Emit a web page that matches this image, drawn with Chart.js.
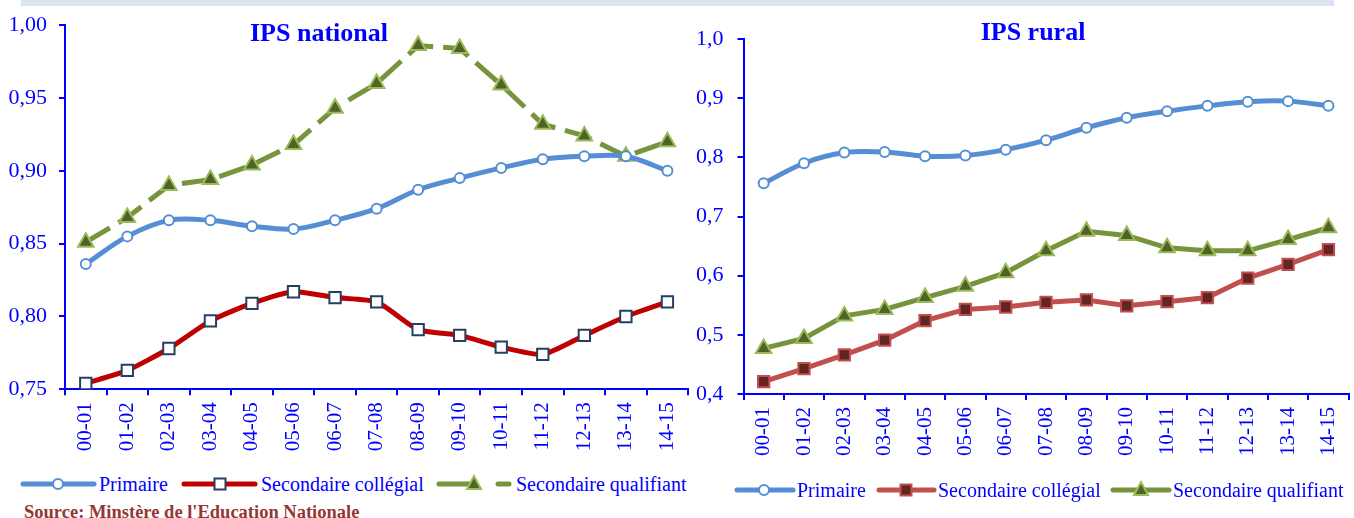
<!DOCTYPE html>
<html>
<head>
<meta charset="utf-8">
<script src="https://cdn.jsdelivr.net/npm/chart.js@4.4.1/dist/chart.umd.min.js"></script>
<style>
  html, body { margin: 0; padding: 0; background: #fff; }
  body { width: 1354px; height: 518px; position: relative; overflow: hidden; font-family: 'Liberation Serif', 'Times New Roman', serif; }
  canvas { position: absolute; top: 0; }
  #natCanvas { left: 0; }
  #rurCanvas { left: 680px; }
  .banner { position: absolute; left: 21px; top: 0; width: 1313px; height: 6px; background: #dbe5f1; }
  .title { position: absolute; color: #0000ff; font-weight: bold; font-size: 26px; line-height: 30px; white-space: nowrap; transform: translateX(-50%); }
  .source { position: absolute; left: 24px; top: 502px; color: #953735; font-weight: bold; font-size: 18.5px; line-height: 20px; white-space: nowrap; }
  svg.legend { position: absolute; left: 0; }
  svg.legend text { font-family: 'Liberation Serif', 'Times New Roman', serif; font-size: 20px; fill: #0000ff; }
</style>
</head>
<body>
<div class="banner"></div>
<canvas id="natCanvas" width="700" height="470"></canvas>
<canvas id="rurCanvas" width="681" height="470"></canvas>
<div class="title" style="left:319px; top:18px;">IPS national</div>
<div class="title" style="left:1033px; top:17px;">IPS rural</div>

<svg class="legend" style="top:470px" width="700" height="30">
  <line x1="23" y1="14" x2="94" y2="14" stroke="#558ed5" stroke-width="5" stroke-linecap="round"/>
  <circle cx="58" cy="14" r="5" fill="#ffffff" stroke="#558ed5" stroke-width="2"/>
  <text x="99" y="21">Primaire</text>
  <line x1="184" y1="14" x2="255" y2="14" stroke="#c00000" stroke-width="5" stroke-linecap="round"/>
  <rect x="214.5" y="8.5" width="11" height="11" fill="#ffffff" stroke="#243f60" stroke-width="2"/>
  <text x="261" y="21">Secondaire collégial</text>
  <line x1="439" y1="14" x2="472" y2="14" stroke="#77933c" stroke-width="5" stroke-linecap="round"/>
  <polygon points="474,6 481,19 467,19" fill="#4f6228" stroke="#9bbb59" stroke-width="2"/>
  <line x1="498" y1="14" x2="509" y2="14" stroke="#77933c" stroke-width="5" stroke-linecap="round"/>
  <text x="516" y="21">Secondaire qualifiant</text>
</svg>

<svg class="legend" style="top:476px" width="1354" height="30">
  <line x1="737" y1="14" x2="793" y2="14" stroke="#558ed5" stroke-width="5" stroke-linecap="round"/>
  <circle cx="764" cy="14" r="5" fill="#ffffff" stroke="#558ed5" stroke-width="2"/>
  <text x="797" y="21">Primaire</text>
  <line x1="879" y1="14" x2="934" y2="14" stroke="#c0504d" stroke-width="5" stroke-linecap="round"/>
  <rect x="900.5" y="8.5" width="11" height="11" fill="#632523" stroke="#c0504d" stroke-width="2"/>
  <text x="938" y="21">Secondaire collégial</text>
  <line x1="1113" y1="14" x2="1169" y2="14" stroke="#77933c" stroke-width="5" stroke-linecap="round"/>
  <polygon points="1141,6 1148,19 1134,19" fill="#4f6228" stroke="#9bbb59" stroke-width="2"/>
  <text x="1173" y="21">Secondaire qualifiant</text>
</svg>

<div class="source">Source: Minstère de l'Education Nationale</div>

<script>
// Data
const categories = ['00-01', '01-02', '02-03', '03-04', '04-05', '05-06', '06-07', '07-08',
                    '08-09', '09-10', '10-11', '11-12', '12-13', '13-14', '14-15'];

const nationalPrimaire   = [0.836, 0.855, 0.866, 0.866, 0.862, 0.860, 0.866, 0.874, 0.887, 0.895, 0.902, 0.908, 0.910, 0.910, 0.900];
const nationalCollegial  = [0.754, 0.763, 0.778, 0.797, 0.809, 0.817, 0.813, 0.810, 0.791, 0.787, 0.779, 0.774, 0.787, 0.800, 0.810];
const nationalQualifiant = [0.851, 0.868, 0.890, 0.894, 0.904, 0.918, 0.943, 0.960, 0.986, 0.984, 0.959, 0.932, 0.924, 0.910, 0.920];

const ruralPrimaire   = [0.756, 0.790, 0.808, 0.809, 0.802, 0.803, 0.813, 0.829, 0.850, 0.867, 0.878, 0.887, 0.894, 0.895, 0.887];
const ruralCollegial  = [0.421, 0.443, 0.466, 0.491, 0.524, 0.543, 0.547, 0.555, 0.559, 0.549, 0.556, 0.563, 0.596, 0.619, 0.644];
const ruralQualifiant = [0.477, 0.494, 0.532, 0.543, 0.563, 0.582, 0.605, 0.642, 0.675, 0.668, 0.647, 0.642, 0.642, 0.661, 0.681];

const nationalTicks = [0.75, 0.80, 0.85, 0.90, 0.95, 1.00];
const ruralTicks = [0.4, 0.5, 0.6, 0.7, 0.8, 0.9, 1.0];

const blue = '#0000ff';
const serif = "'Liberation Serif', 'Times New Roman', serif";

Chart.defaults.font.family = serif;

function makeScales(ticks, decimals, yWidth, xHeight, tickPad) {
    return {
        x: {
            offset: true,
            grid: { offset: true, drawOnChartArea: false, tickLength: 6, color: blue, lineWidth: 2 },
            border: { color: blue, width: 2 },
            ticks: { color: blue, font: { size: 21 }, minRotation: 90, maxRotation: 90, padding: 7, autoSkip: false },
            afterFit: (s) => { s.height = xHeight; }
        },
        y: {
            min: ticks[0],
            max: ticks[ticks.length - 1],
            grid: { drawOnChartArea: false, tickLength: 6, color: blue, lineWidth: 2 },
            border: { color: blue, width: 2 },
            ticks: {
                color: blue, font: { size: 22 }, padding: tickPad,
                callback: (v) => Number(v).toFixed(decimals).replace('.', ',')
            },
            afterBuildTicks: (s) => { s.ticks = ticks.map(v => ({ value: v })); },
            afterFit: (s) => { s.width = yWidth; }
        }
    };
}

const baseOptions = {
    responsive: false,
    animation: false,
    plugins: { legend: { display: false }, tooltip: { enabled: false } }
};

// IPS national
new Chart(document.getElementById('natCanvas'), {
    type: 'line',
    data: {
        labels: categories,
        datasets: [
            {
              label: 'Primaire',
              data: nationalPrimaire,
              borderColor: '#558ed5', borderWidth: 5, tension: 0.35,
              pointStyle: 'circle', pointRadius: 5, pointBorderWidth: 2,
              pointBackgroundColor: '#ffffff', pointBorderColor: '#558ed5'
            },
            {
              label: 'Secondaire collégial',
              data: nationalCollegial,
              borderColor: '#c00000', borderWidth: 5, tension: 0.2,
              pointStyle: 'rect', pointRadius: 8, pointBorderWidth: 2,
              pointBackgroundColor: '#ffffff', pointBorderColor: '#243f60'
            },
            {
              label: 'Secondaire qualifiant',
              data: nationalQualifiant,
              borderColor: '#77933c', borderWidth: 5, tension: 0, borderDash: [28, 10],
              pointStyle: 'triangle', pointRadius: 9, pointBorderWidth: 2,
              pointBackgroundColor: '#4f6228', pointBorderColor: '#9bbb59'
            },
        ]
    },
    options: Object.assign({}, baseOptions, {
        layout: { padding: { top: 22.7, right: 7, left: 0, bottom: 0 } },
        scales: makeScales(nationalTicks, 2, 65, 80.7, 12)
    })
});

// IPS rural
new Chart(document.getElementById('rurCanvas'), {
    type: 'line',
    data: {
        labels: categories,
        datasets: [
            {
              label: 'Primaire',
              data: ruralPrimaire,
              borderColor: '#558ed5', borderWidth: 5, tension: 0.35,
              pointStyle: 'circle', pointRadius: 5, pointBorderWidth: 2,
              pointBackgroundColor: '#ffffff', pointBorderColor: '#558ed5'
            },
            {
              label: 'Secondaire collégial',
              data: ruralCollegial,
              borderColor: '#c0504d', borderWidth: 5, tension: 0,
              pointStyle: 'rect', pointRadius: 8, pointBorderWidth: 2,
              pointBackgroundColor: '#632523', pointBorderColor: '#c0504d'
            },
            {
              label: 'Secondaire qualifiant',
              data: ruralQualifiant,
              borderColor: '#77933c', borderWidth: 5, tension: 0,
              pointStyle: 'triangle', pointRadius: 9, pointBorderWidth: 2,
              pointBackgroundColor: '#4f6228', pointBorderColor: '#9bbb59'
            },
        ]
    },
    options: Object.assign({}, baseOptions, {
        layout: { padding: { top: 39, right: 0, left: 0, bottom: 0 } },
        scales: makeScales(ruralTicks, 1, 63.5, 76, 14)
    })
});
</script>
</body>
</html>
